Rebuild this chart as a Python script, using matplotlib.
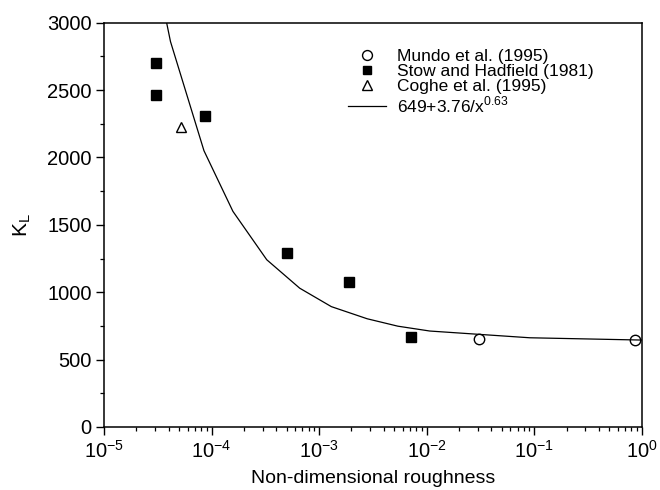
import matplotlib
matplotlib.use("Agg")
import matplotlib.pyplot as plt
from matplotlib.ticker import LogLocator, MultipleLocator, NullFormatter

plt.rcParams['font.family'] = ['Liberation Sans', 'DejaVu Sans']
plt.rcParams['axes.unicode_minus'] = False

# Data
mundo_x = [0.0306, 0.865]
mundo_y = [652, 645]

stow_x = [3.03e-5, 3.03e-5, 8.6e-5, 5.0e-4, 1.88e-3, 7.2e-3]
stow_y = [2698, 2462, 2310, 1290, 1075, 671]

coghe_x = [5.2e-5]
coghe_y = [2225]

fit_x = [3.2e-5, 4.15e-5, 8.5e-5, 1.58e-4, 3.26e-4, 6.6e-4, 1.3e-3, 2.8e-3,
         5.4e-3, 1.07e-2, 9.1e-2, 1.0]
fit_y = [3300, 2860, 2050, 1600, 1241, 1030, 893, 803, 748, 712, 662, 645]

labels = ['Mundo et al. (1995)', 'Stow and Hadfield (1981)', 'Coghe et al. (1995)',
          r'649+3.76/x$^{\mathdefault{0.63}}$']

fig = plt.figure(figsize=(6.6, 4.9), dpi=100)
ax = fig.add_axes([0.1576, 0.1286, 0.8147, 0.8251])

h1, = ax.plot(mundo_x, mundo_y, 'o', mfc='white', mec='black', mew=1.0, ms=7.5, ls='none')
h2, = ax.plot(stow_x, stow_y, 's', mfc='black', mec='black', ms=6.5, ls='none')
h3, = ax.plot(coghe_x, coghe_y, '^', mfc='white', mec='black', mew=1.0, ms=7.5, ls='none')
h4, = ax.plot(fit_x, fit_y, '-', color='black', lw=0.9)

ax.set_xscale('log')
ax.set_xlim(1e-5, 1e0)
ax.set_ylim(0, 3000)
ax.xaxis.set_major_locator(LogLocator(base=10, numticks=10))
ax.xaxis.set_minor_locator(LogLocator(base=10, subs=range(2, 10), numticks=20))
ax.xaxis.set_minor_formatter(NullFormatter())
ax.yaxis.set_major_locator(MultipleLocator(500))
ax.yaxis.set_minor_locator(MultipleLocator(250))

ax.tick_params(which='major', direction='out', length=6, width=1.0, labelsize=14.5,
               top=False, right=False, pad=3)
ax.tick_params(which='minor', direction='out', length=3, width=0.9,
               top=False, right=False)
for s in ax.spines.values():
    s.set_linewidth(1.1)

ax.set_xlabel('Non-dimensional roughness', fontsize=14, labelpad=6)
ax.set_ylabel(r'K$_{\mathdefault{L}}$', fontsize=15, labelpad=10)

leg = fig.legend([h1, h2, h3, h4], labels, loc='upper left',
                 bbox_to_anchor=(348 / 660, 1 - 49 / 490),
                 frameon=False, fontsize=12.5, borderpad=0, borderaxespad=0,
                 handlelength=2.2, handletextpad=0.65, labelspacing=0.0,
                 markerscale=0.95)

fig.savefig('out.png', dpi=100)
